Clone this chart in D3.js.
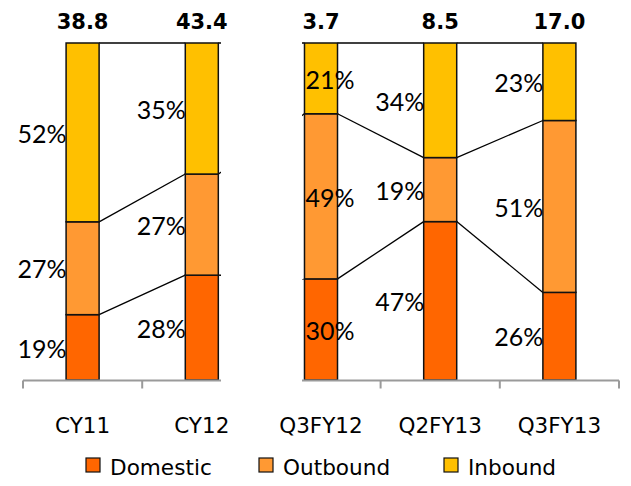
<!DOCTYPE html>
<html>
<head>
<meta charset="utf-8">
<script src="https://cdn.jsdelivr.net/npm/d3@7/dist/d3.min.js"></script>
<style>
  html, body { margin: 0; padding: 0; background: #fff; }
  svg { display: block; }
</style>
</head>
<body>
<svg id="chart" width="631" height="486"></svg>
<script>
// Periods on the x axis
const categories = ["CY11", "CY12", "Q3FY12", "Q2FY13", "Q3FY13"];
// Share of each segment (%)
const domestic = [19, 28, 30, 47, 26];
const outbound = [27, 27, 49, 19, 51];
const inbound  = [52, 35, 21, 34, 23];
// Totals printed above each column
const totals = [38.8, 43.4, 3.7, 8.5, 17.0];

const seriesNames = ["Domestic", "Outbound", "Inbound"];
const colors = { Domestic: "#FF6600", Outbound: "#FF9933", Inbound: "#FFC000" };

const rows = categories.map((c, i) => ({
  cat: c, Domestic: domestic[i], Outbound: outbound[i], Inbound: inbound[i]
}));

const stack = d3.stack().keys(seriesNames).offset(d3.stackOffsetExpand);
const layers = stack(rows);

const svg = d3.select("#chart");

const x = d3.scaleBand().domain(categories).range([23, 619]);
const y = d3.scaleLinear().domain([0, 1]).range([380, 43]);
const barW = x.bandwidth() * 0.277;
const cx = c => x(c) + x.bandwidth() / 2;
const left = c => cx(c) - barW / 2;
const right = c => cx(c) + barW / 2;

// Two panels with a blank gutter between them
const defs = svg.append("defs");
const clip = defs.append("clipPath").attr("id", "panels");
clip.append("rect").attr("x", 0).attr("y", 0).attr("width", 221).attr("height", 486);
clip.append("rect").attr("x", 302).attr("y", 0).attr("width", 329).attr("height", 486);

const plot = svg.append("g").attr("clip-path", "url(#panels)");

// Series lines joining the segment tops of neighbouring columns
const levels = layers.map(layer => layer.map(d => d[1]));
levels.forEach(lv => {
  for (let i = 0; i < categories.length - 1; i++) {
    plot.append("line")
      .attr("x1", right(categories[i])).attr("y1", y(lv[i]))
      .attr("x2", left(categories[i + 1])).attr("y2", y(lv[i + 1]))
      .attr("stroke", "#000").attr("stroke-width", 1.3);
  }
});

// Stacked columns
layers.forEach(layer => {
  plot.selectAll(null).data(layer).enter().append("rect")
    .attr("x", d => left(d.data.cat))
    .attr("y", d => y(d[1]))
    .attr("width", barW)
    .attr("height", d => y(d[0]) - y(d[1]))
    .attr("fill", colors[layer.key])
    .attr("stroke", "#111")
    .attr("stroke-width", 1.5);
});

// Category axis with ticks on band boundaries
const axisY = 380.5;
const axisG = plot.append("g");
axisG.append("line")
  .attr("x1", 23).attr("x2", 619).attr("y1", axisY).attr("y2", axisY)
  .attr("stroke", "#9a9a9a").attr("stroke-width", 2);
const bounds = categories.map(c => x(c)).concat([x.range()[1]]);
axisG.selectAll(null).data(bounds).enter().append("line")
  .attr("x1", d => d).attr("x2", d => d)
  .attr("y1", axisY).attr("y2", axisY + 8)
  .attr("stroke", "#9a9a9a").attr("stroke-width", 2);

svg.selectAll(null).data(categories).enter().append("text")
  .attr("x", d => cx(d)).attr("y", 433)
  .attr("text-anchor", "middle")
  .attr("font-family", "DejaVu Sans").attr("font-size", 21.5)
  .attr("fill", "#000")
  .text(d => d);

// Percentage labels beside each segment (first column of the right panel: inside)
const insideCats = new Set(["Q3FY12"]);
layers.forEach(layer => {
  svg.selectAll(null).data(layer).enter().append("text")
    .attr("x", d => insideCats.has(d.data.cat) ? left(d.data.cat) + 1 : left(d.data.cat) + 0.5)
    .attr("text-anchor", d => insideCats.has(d.data.cat) ? "start" : "end")
    .attr("y", d => (y(d[0]) + y(d[1])) / 2 + 1.5)
    .attr("dy", "0.35em")
    .attr("font-family", "Lato").attr("font-size", 25)
    .attr("fill", "#000")
    .text(d => d.data[layer.key] + "%");
});

// Totals above columns
svg.selectAll(null).data(categories).enter().append("text")
  .attr("x", d => cx(d)).attr("y", 28.5)
  .attr("text-anchor", "middle")
  .attr("font-family", "DejaVu Sans").attr("font-weight", "bold").attr("font-size", 21)
  .attr("fill", "#000")
  .text((d, i) => d3.format(".1f")(totals[i]));

// Legend
const legendX = [86, 259, 444];
const lg = svg.selectAll(null).data(seriesNames).enter().append("g")
  .attr("transform", (d, i) => `translate(${legendX[i]},458)`);
lg.append("rect").attr("width", 14).attr("height", 14)
  .attr("fill", d => colors[d]).attr("stroke", "#111").attr("stroke-width", 1.2);
lg.append("text").attr("x", 24).attr("y", 17)
  .attr("font-family", "DejaVu Sans").attr("font-size", 21.6)
  .attr("fill", "#000")
  .text(d => d);
</script>
</body>
</html>
